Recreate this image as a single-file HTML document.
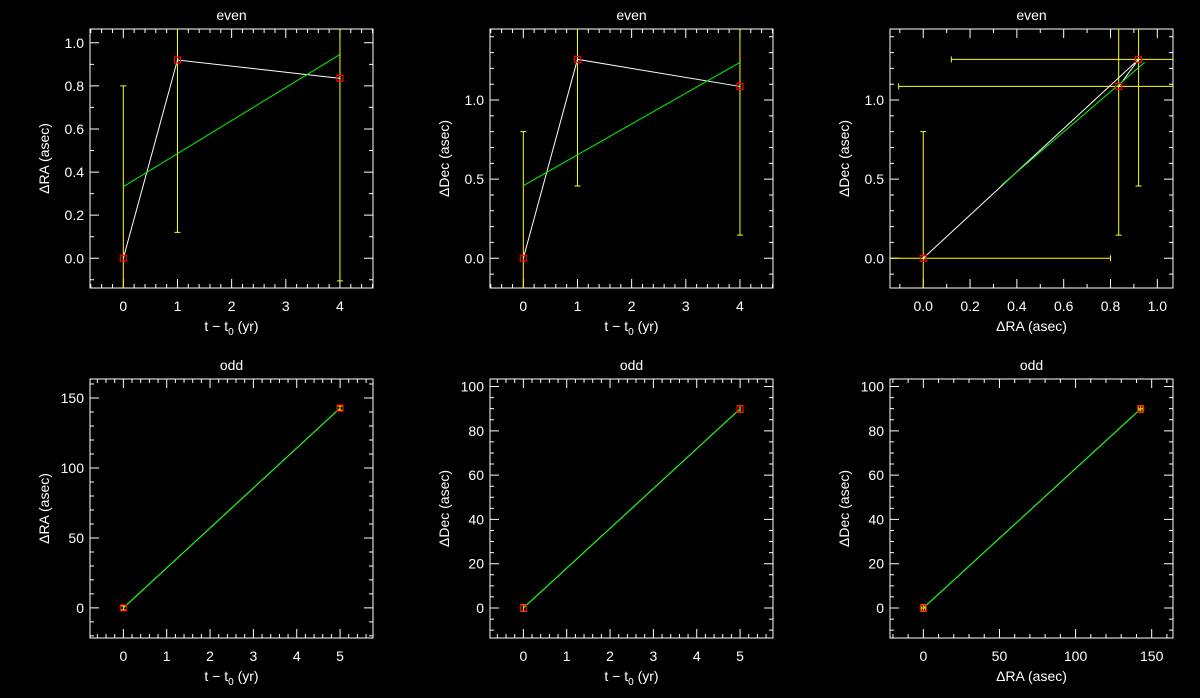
<!DOCTYPE html>
<html><head><meta charset="utf-8"><style>
html,body{margin:0;padding:0;background:#000;}
svg{display:block;}
text{font-family:"Liberation Sans","DejaVu Sans",sans-serif;fill:#fff;font-size:14px;}
</style></head><body>
<svg id="fig" width="1200" height="698" viewBox="0 0 1200 698"></svg>
<script>
// ---- data ----
const tEven=[0,1,4];
const raEven=[0,0.92,0.835];
const decEven=[0,1.257,1.086];
const raErrEven=[0.8,0.8,0.94];
const decErrEven=[0.8,0.8,0.94];
const fitTEven=[0,4];
const raFitEven=[0.332,0.946];
const decFitEven=[0.459,1.238];
const tOdd=[0,5];
const raOdd=[0,142.8];
const decOdd=[0,89.9];
const raErrOdd=[1.5,1.5];
const decErrOdd=[1.5,1.5];
const fitTOdd=[0,5];
const raFitOdd=[0,142.8];
const decFitOdd=[0,89.9];
const ticksT4=[0,1,2,3,4];
const ticksT5=[0,1,2,3,4,5];
const ticksRaE=[0.0,0.2,0.4,0.6,0.8,1.0];
const ticksDecE=[0.0,0.5,1.0];
const ticksRaO=[0,50,100,150];
const ticksDecO=[0,20,40,60,80,100];

const NS="http://www.w3.org/2000/svg";
const svg=document.getElementById('fig');
function mk(tag,attrs,parent){const e=document.createElementNS(NS,tag);for(const k in attrs)e.setAttribute(k,attrs[k]);(parent||svg).appendChild(e);return e;}

let pid=0;
function panel(o){
  pid++;
  const g=mk('g',{});
  
  
  const L=o.x0,R=o.x0+283,T=o.y0,B=o.y0+259;
  const sx=v=>L+(v-o.xr[0])/(o.xr[1]-o.xr[0])*(R-L);
  const sy=v=>B-(v-o.yr[0])/(o.yr[1]-o.yr[0])*(B-T);
  const clip=mk('clipPath',{id:'c'+pid},g);
  mk('rect',{x:L,y:T,width:R-L,height:B-T},clip);
  // title
  const tt=mk('text',{x:(L+R)/2,y:T-9,'text-anchor':'middle','font-size':15},g);
  tt.textContent=o.title;
  
  
  // box
  const bx=mk('rect',{x:L,y:T,width:R-L,height:B-T,fill:'none',stroke:'#fff','stroke-width':1},g);
  
  
  // ticks
  let d='';
  const eps=1e-9;
  for(let v=Math.ceil(o.xr[0]/o.xminor)*o.xminor;v<=o.xr[1]+eps;v+=o.xminor){
    const X=sx(v);const maj=o.xt.some(t=>Math.abs(t-v)<o.xminor/10);const l=maj?9:4;
    d+=`M${X} ${B}V${B-l}M${X} ${T}V${T+l}`;
  }
  for(let v=Math.ceil(o.yr[0]/o.yminor)*o.yminor;v<=o.yr[1]+eps;v+=o.yminor){
    const Y=sy(v);const maj=o.yt.some(t=>Math.abs(t-v)<o.yminor/10);const l=maj?9:4;
    d+=`M${L} ${Y}H${L+l}M${R} ${Y}H${R-l}`;
  }
  const tk=mk('path',{d:d,stroke:'#fff','stroke-width':1,fill:'none'},g);
  
  
  o.xt.forEach(v=>{const t=mk('text',{x:sx(v),y:B+23,'text-anchor':'middle'},g);t.textContent=o.xfmt(v);
    
    });
  o.yt.forEach(v=>{const t=mk('text',{x:L-6,y:sy(v)+5,'text-anchor':'end'},g);t.textContent=o.yfmt(v);
    
    });
  const xl=mk('text',{x:(L+R)/2,y:B+43,'text-anchor':'middle','font-size':15},g);
  xl.innerHTML=o.xlabel;
  
  
  const yl=mk('text',{x:0,y:0,'text-anchor':'middle','font-size':15,transform:`translate(${L-41},${(T+B)/2}) rotate(-90)`},g);
  yl.textContent=o.ylabel;
  
  
  const cg=mk('g',{'clip-path':`url(#c${pid})`},g);
  // error bars
  let ed='';
  for(let i=0;i<o.px.length;i++){
    const X=sx(o.px[i]),Y=sy(o.py[i]);
    if(o.ey){const y1=sy(o.py[i]-o.ey[i]),y2=sy(o.py[i]+o.ey[i]);ed+=`M${X} ${y1}V${y2}M${X-3} ${y1}H${X+3}M${X-3} ${y2}H${X+3}`;}
    if(o.ex){const x1=sx(o.px[i]-o.ex[i]),x2=sx(o.px[i]+o.ex[i]);ed+=`M${x1} ${Y}H${x2}M${x1} ${Y-3}V${Y+3}M${x2} ${Y-3}V${Y+3}`;}
  }
  const eb=mk('path',{d:ed,stroke:'#ffff00','stroke-width':1,fill:'none'},cg);
  
  
  // data line
  const pl=mk('polyline',{points:o.px.map((v,i)=>sx(v)+','+sy(o.py[i])).join(' '),stroke:'#fff','stroke-width':1,fill:'none'},cg);
  
  
  // fit line
  const fl=mk('polyline',{points:o.fx.map((v,i)=>sx(v)+','+sy(o.fy[i])).join(' '),stroke:'#00ff00','stroke-width':1,fill:'none'},cg);
  
  
  // markers
  for(let i=0;i<o.px.length;i++){
    const m=mk('rect',{x:sx(o.px[i])-3,y:sy(o.py[i])-3,width:6,height:6,fill:'none',stroke:'#ff0000','stroke-width':1.2},cg);
    
    
  }
}
const f1=v=>v.toFixed(1), f0=v=>String(v);
const tlab='t &#8722; t<tspan font-size="10" dy="4">0</tspan><tspan dy="-4"> (yr)</tspan>';
panel({name:'even-ra-vs-time',title:'even',x0:90,y0:29,xr:[-0.615,4.61],yr:[-0.138,1.064],xt:ticksT4,yt:ticksRaE,xminor:0.2,yminor:0.1,xfmt:f0,yfmt:f1,xlabel:tlab,ylabel:'ΔRA (asec)',px:tEven,py:raEven,ey:raErrEven,fx:fitTEven,fy:raFitEven});
panel({name:'even-dec-vs-time',title:'even',x0:490,y0:29,xr:[-0.615,4.61],yr:[-0.188,1.449],xt:ticksT4,yt:ticksDecE,xminor:0.2,yminor:0.1,xfmt:f0,yfmt:f1,xlabel:tlab,ylabel:'ΔDec (asec)',px:tEven,py:decEven,ey:decErrEven,fx:fitTEven,fy:decFitEven});
panel({name:'even-dec-vs-ra',title:'even',x0:890,y0:29,xr:[-0.142,1.067],yr:[-0.188,1.449],xt:ticksRaE,yt:ticksDecE,xminor:0.1,yminor:0.1,xfmt:f1,yfmt:f1,xlabel:'ΔRA (asec)',ylabel:'ΔDec (asec)',px:raEven,py:decEven,ex:raErrEven,ey:decErrEven,fx:raFitEven,fy:decFitEven});
panel({name:'odd-ra-vs-time',title:'odd',x0:90,y0:379,xr:[-0.77,5.76],yr:[-21.5,163.6],xt:ticksT5,yt:ticksRaO,xminor:0.2,yminor:10,xfmt:f0,yfmt:f0,xlabel:tlab,ylabel:'ΔRA (asec)',px:tOdd,py:raOdd,ey:raErrOdd,fx:fitTOdd,fy:raFitOdd});
panel({name:'odd-dec-vs-time',title:'odd',x0:490,y0:379,xr:[-0.77,5.76],yr:[-13.55,103.4],xt:ticksT5,yt:ticksDecO,xminor:0.2,yminor:5,xfmt:f0,yfmt:f0,xlabel:tlab,ylabel:'ΔDec (asec)',px:tOdd,py:decOdd,ey:decErrOdd,fx:fitTOdd,fy:decFitOdd});
panel({name:'odd-dec-vs-ra',title:'odd',x0:890,y0:379,xr:[-21.9,164],yr:[-13.55,103.4],xt:ticksRaO,yt:ticksDecO,xminor:10,yminor:5,xfmt:f0,yfmt:f0,xlabel:'ΔRA (asec)',ylabel:'ΔDec (asec)',px:raOdd,py:decOdd,ex:raErrOdd,ey:decErrOdd,fx:raFitOdd,fy:decFitOdd});
</script>
</body></html>
